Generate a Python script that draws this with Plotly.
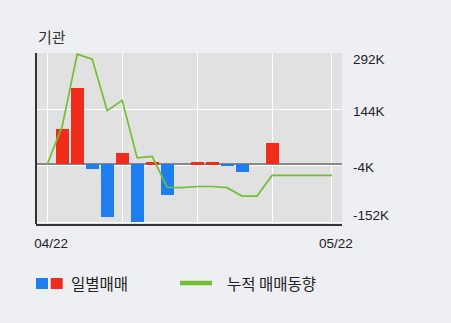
import plotly.graph_objects as go

# ---- data (values in thousands of shares) ----
idx = list(range(20))
daily = [0, 93, 199, -12, -137, 31, -150, 5, -79, 0, 5, 5, -4, -19, 0, 57, 0, 0, 0, 0]
cumulative = [0, 100, 289, 276, 141, 168, 17, 21, -60, -61, -58, -58, -61, -83, -83, -29, -29, -29, -29, -29]
x_tickvals = [0, 5, 10, 15, 19]
x_ticktext = ["04/22", "", "", "", "05/22"]
y_tickvals = [292, 144, -4, -152]
y_ticktext = ["292K", "144K", "-4K", "-152K"]
y_label_px = [59, 111.5, 167.5, 215.5]   # pixel rows where the reference prints the y labels

RED = "#f02c1a"
BLUE = "#1e7ef0"
GREEN = "#72be35"

bar_colors = [RED if v >= 0 else BLUE for v in daily]

fig = go.Figure()
fig.add_trace(go.Bar(x=idx, y=daily, marker=dict(color=bar_colors, line=dict(width=0)),
                     width=0.87, showlegend=False))
fig.add_trace(go.Scatter(x=idx, y=cumulative, mode="lines",
                         line=dict(color=GREEN, width=1.7), showlegend=False))

W, H = 451, 323
L, R, T, B = 36, 109, 53, 99
pw, ph = W - L - R, H - T - B

def px(xp):
    return (xp - L) / pw

def py(yp):
    return (H - B - yp) / ph

TICKFONT = dict(family="Liberation Sans", size=13.5, color="#222")
KFONT = dict(family="Noto Sans CJK KR", size=15.5, color="#222")

annotations = [
    dict(text="기관", xref="paper", yref="paper", x=px(36), y=py(36), xanchor="left", yanchor="middle",
         showarrow=False, font=dict(family="Noto Sans CJK KR", size=15, color="#333")),
    dict(text="일별매매", xref="paper", yref="paper", x=px(69), y=py(283), xanchor="left", yanchor="middle",
         showarrow=False, font=KFONT),
    dict(text="누적 매매동향", xref="paper", yref="paper", x=px(225), y=py(283), xanchor="left", yanchor="middle",
         showarrow=False, font=KFONT),
]
for txt, yp in zip(y_ticktext, y_label_px):
    annotations.append(dict(text=txt, xref="paper", yref="paper", x=px(351), y=py(yp),
                            xanchor="left", yanchor="middle", showarrow=False, font=TICKFONT))

fig.update_layout(
    width=W, height=H,
    margin=dict(l=L, r=R, t=T, b=B, pad=0),
    paper_bgcolor="#eeeff3",
    plot_bgcolor="#e1e1e1",
    bargap=0,
    xaxis=dict(range=[-0.75, 19.67], tickvals=x_tickvals, ticktext=x_ticktext,
               showgrid=True, gridcolor="#ffffff", gridwidth=1,
               showline=True, linecolor="#333333", linewidth=2,
               ticks="", tickfont=TICKFONT, ticklabelshift=4, ticklabelstandoff=6,
               zeroline=False, fixedrange=True),
    yaxis=dict(range=[-156.3, 292], side="right", tickvals=y_tickvals, ticktext=y_ticktext,
               showgrid=True, gridcolor="#ffffff", gridwidth=1,
               zeroline=True, zerolinecolor="#888888", zerolinewidth=2,
               showline=False, ticks="", showticklabels=False,
               fixedrange=True),
    shapes=[
        dict(type="line", xref="paper", yref="paper", x0=0, x1=0, y0=0, y1=1,
             line=dict(color="#333333", width=2)),
        dict(type="rect", xref="paper", yref="paper", x0=px(36), x1=px(48), y0=py(289), y1=py(278),
             fillcolor=BLUE, line=dict(width=0)),
        dict(type="rect", xref="paper", yref="paper", x0=px(50.7), x1=px(62.7), y0=py(289), y1=py(278),
             fillcolor=RED, line=dict(width=0)),
        dict(type="line", xref="paper", yref="paper", x0=px(180), x1=px(212), y0=py(283), y1=py(283),
             line=dict(color=GREEN, width=4.5)),
    ],
    annotations=annotations,
)

fig.write_html("out.html")
